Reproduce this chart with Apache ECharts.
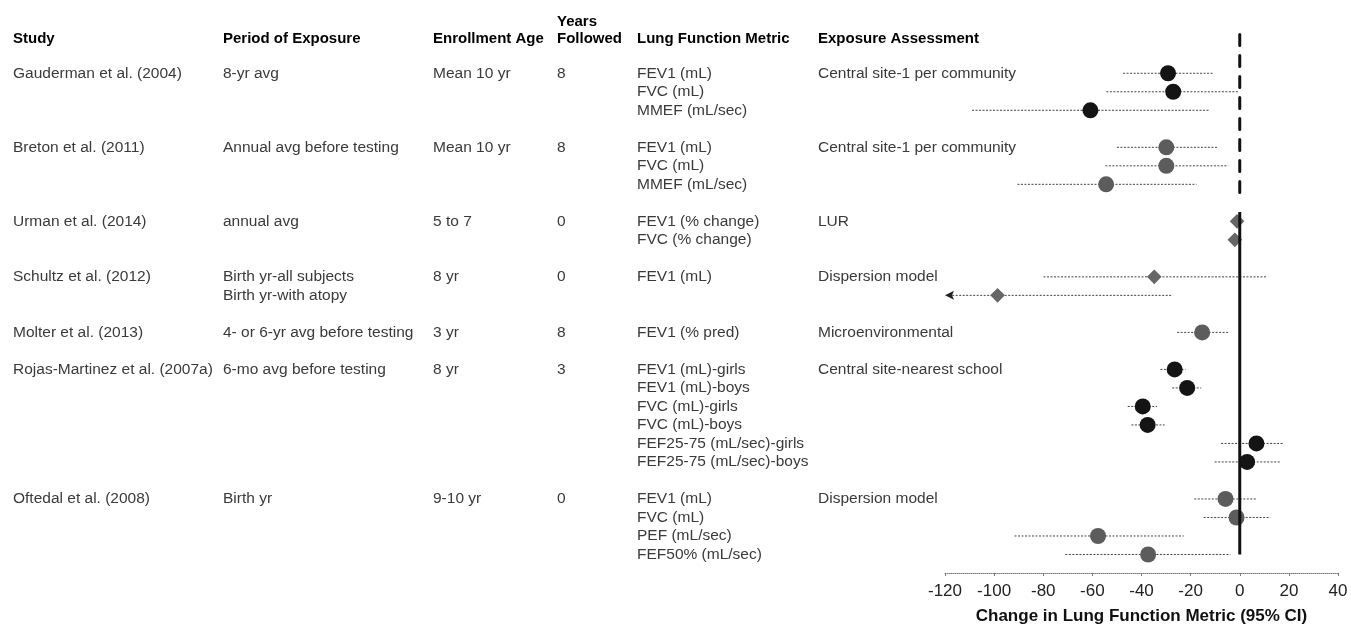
<!DOCTYPE html>
<html><head><meta charset="utf-8">
<script src="https://cdn.jsdelivr.net/npm/echarts/dist/echarts.min.js"></script>
<style>html,body{margin:0;padding:0;background:#fff}#c{width:1351px;height:626px}</style>
</head><body><div id="c"></div><script>
// ---------- data ----------
const studyNames = ["Gauderman et al. (2004)", "Breton et al. (2011)", "Urman et al. (2014)", "Schultz et al. (2012)", "Molter et al. (2013)", "Rojas-Martinez et al. (2007a)", "Oftedal et al. (2008)"];
const periods = [["8-yr avg"], ["Annual avg before testing"], ["annual avg"], ["Birth yr-all subjects", "Birth yr-with atopy"], ["4- or 6-yr avg before testing"], ["6-mo avg before testing"], ["Birth yr"]];
const enrollAges = ["Mean 10 yr", "Mean 10 yr", "5 to 7", "8 yr", "3 yr", "8 yr", "9-10 yr"];
const yearsFollowed = ["8", "8", "0", "0", "8", "3", "0"];
const metrics = [
  ["FEV1 (mL)", "FVC (mL)", "MMEF (mL/sec)"],
  ["FEV1 (mL)", "FVC (mL)", "MMEF (mL/sec)"],
  ["FEV1 (% change)", "FVC (% change)"],
  ["FEV1 (mL)"],
  ["FEV1 (% pred)"],
  ["FEV1 (mL)-girls", "FEV1 (mL)-boys", "FVC (mL)-girls", "FVC (mL)-boys", "FEF25-75 (mL/sec)-girls", "FEF25-75 (mL/sec)-boys"],
  ["FEV1 (mL)", "FVC (mL)", "PEF (mL/sec)", "FEF50% (mL/sec)"]
];
const assessments = ["Central site-1 per community", "Central site-1 per community", "LUR", "Dispersion model", "Microenvironmental", "Central site-nearest school", "Dispersion model"];
const estimates = [[-29.2, -27.1, -60.8], [-29.9, -29.9, -54.4], [-1.1, -2.0], [-34.8, -98.6], [-15.3], [-26.5, -21.4, -39.5, -37.5, 6.8, 3.0], [-5.8, -1.3, -57.7, -37.3]];
const lowerCI = [[-47.5, -54.3, -109.0], [-50.0, -54.7, -90.5], [-2.0, -3.0], [-79.9, -130.0], [-25.5], [-32.3, -27.5, -45.6, -44.1, -7.6, -10.2], [-18.5, -14.7, -91.7, -71.0]];
const upperCI = [[-10.8, -0.4, -12.6], [-9.2, -4.7, -17.6], [0.0, -1.0], [10.8, -27.5], [-4.7], [-22.1, -15.7, -33.7, -30.6, 17.7, 16.6], [6.7, 12.5, -22.8, -3.8]];
const xTicks = { min: -120, max: 40, interval: 20 };
const headers = ["Study", "Period of Exposure", "Enrollment Age", "Followed", "Lung Function Metric", "Exposure Assessment"];
const axisTitle = "Change in Lung Function Metric (95% CI)";

// ---------- styles / layout ----------
const markerShape = ["circle", "circle", "diamond", "diamond", "circle", "circle", "circle"];
const markerColor = ["#141414", "#5c5c5c", "#666666", "#666666", "#5c5c5c", "#141414", "#5c5c5c"];
const colX = [13, 223, 433, 557, 637, 818];
const FONT = "'Liberation Sans', Arial, sans-serif";

// rows (computed from group sizes, one blank row between studies)
const forestItems = [];
const textItems = [];
let r = 0;
let refSplit = 0;
studyNames.forEach((name, s) => {
  const n = Math.max(periods[s].length, metrics[s].length, estimates[s].length);
  textItems.push({ row: r, col: 0, text: name });
  periods[s].forEach((p, k) => textItems.push({ row: r + k, col: 1, text: p }));
  textItems.push({ row: r, col: 2, text: enrollAges[s] });
  textItems.push({ row: r, col: 3, text: yearsFollowed[s] });
  metrics[s].forEach((m, k) => textItems.push({ row: r + k, col: 4, text: m }));
  textItems.push({ row: r, col: 5, text: assessments[s] });
  estimates[s].forEach((e, k) => forestItems.push({ row: r + k, s, est: e, lo: lowerCI[s][k], hi: upperCI[s][k] }));
  if (s === 1) refSplit = r + n;
  r += n + 1;
});
const lastRow = r - 2;

const chart = echarts.init(document.getElementById('c'), null, { renderer: 'canvas' });
chart.setOption({
  backgroundColor: '#fff',
  animation: false,
  grid: { left: 945, right: 13, top: 27, height: 546, containLabel: false, outerBoundsMode: 'none' },
  xAxis: {
    type: 'value', min: xTicks.min, max: xTicks.max, interval: xTicks.interval,
    position: 'bottom',
    splitLine: { show: false },
    axisLine: { show: true, onZero: false, lineStyle: { color: '#7a7a7a', type: 'dotted', width: 1 } },
    axisTick: { show: true, length: 3, lineStyle: { color: '#7a7a7a' } },
    axisLabel: { color: '#222', fontSize: 17, fontFamily: FONT, margin: 10 },
    name: axisTitle, nameLocation: 'middle', nameGap: 35,
    nameTextStyle: { color: '#111', fontSize: 17, fontWeight: 'bold', fontFamily: FONT }
  },
  yAxis: { type: 'value', inverse: true, min: -2.5, max: 27, show: false },
  graphic: [
    { type: 'text', left: colX[0], top: 31, style: { text: headers[0], font: "bold 15px " + FONT, fill: '#000' } },
    { type: 'text', left: colX[1], top: 31, style: { text: headers[1], font: "bold 15px " + FONT, fill: '#000' } },
    { type: 'text', left: colX[2], top: 31, style: { text: headers[2], font: "bold 15px " + FONT, fill: '#000' } },
    { type: 'text', left: colX[3], top: 14, style: { text: "Years", font: "bold 15px " + FONT, fill: '#000' } },
    { type: 'text', left: colX[3], top: 31, style: { text: headers[3], font: "bold 15px " + FONT, fill: '#000' } },
    { type: 'text', left: colX[4], top: 31, style: { text: headers[4], font: "bold 15px " + FONT, fill: '#000' } },
    { type: 'text', left: colX[5], top: 31, style: { text: headers[5], font: "bold 15px " + FONT, fill: '#000' } }
  ],
  series: [
    {
      type: 'custom', name: 'table', clip: false, silent: true, z: 1,
      data: textItems.map(t => [0, t.row]),
      renderItem: (params, api) => {
        const t = textItems[params.dataIndex];
        const y = api.coord([0, t.row])[1];
        return { type: 'text', x: colX[t.col], y: y,
          style: { text: t.text, font: "15.5px " + FONT, fill: '#3a3a3a', verticalAlign: 'middle', align: 'left' } };
      }
    },
    {
      type: 'custom', name: 'forest', clip: false, z: 2,
      data: forestItems.map(f => [f.est, f.row, f.lo, f.hi]),
      renderItem: (params, api) => {
        const it = forestItems[params.dataIndex];
        const p = api.coord([it.est, it.row]);
        const lo = api.coord([Math.max(it.lo, xTicks.min + 1.5), it.row]);
        const hi = api.coord([it.hi, it.row]);
        const children = [{ type: 'line', shape: { x1: lo[0], y1: lo[1], x2: hi[0], y2: hi[1] },
          style: { stroke: '#444', lineWidth: 1, lineDash: [2, 1.5] } }];
        if (it.lo < xTicks.min) {
          const tip = api.coord([xTicks.min, it.row]);
          children.push({ type: 'polygon', shape: { points: [[tip[0], tip[1]], [tip[0] + 9, tip[1] - 4.5], [tip[0] + 7, tip[1]], [tip[0] + 9, tip[1] + 4.5]] },
            style: { fill: '#222' } });
        }
        if (markerShape[it.s] === 'circle') {
          children.push({ type: 'circle', shape: { cx: p[0], cy: p[1], r: 8 }, style: { fill: markerColor[it.s] } });
        } else {
          const d = 7.3;
          children.push({ type: 'polygon', shape: { points: [[p[0], p[1] - d], [p[0] + d, p[1]], [p[0], p[1] + d], [p[0] - d, p[1]]] },
            style: { fill: markerColor[it.s] } });
        }
        return { type: 'group', children };
      }
    },
    {
      type: 'line', name: 'ref-dashed', z: 3, symbol: 'none', silent: true,
      data: [[0, -2.1], [0, refSplit - 0.1]],
      lineStyle: { color: '#111', width: 3, type: [11, 10], cap: 'round' }
    },
    {
      type: 'line', name: 'ref-solid', z: 3, symbol: 'none', silent: true,
      data: [[0, refSplit + 0.5], [0, lastRow]],
      lineStyle: { color: '#111', width: 3 }
    }
  ]
});
</script></body></html>
